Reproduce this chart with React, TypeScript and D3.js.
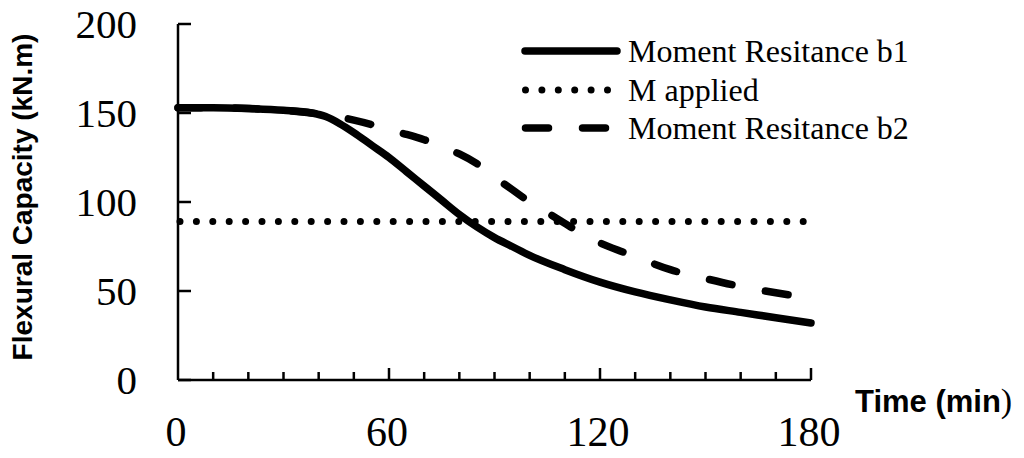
import React from "react";
import * as d3 from "d3";

const timeB1 = [0, 10, 20, 30, 38, 42, 46, 50, 55, 60, 65, 70, 75, 80, 85, 90, 95, 100, 110, 120, 130, 140, 150, 160, 170, 180];
const momentB1 = [153, 153, 152.5, 151.5, 150, 148, 144, 139, 132, 125, 117, 109, 101, 93, 86, 80, 75, 70, 62, 55, 49.5, 45, 41, 38, 35, 32];

const timeB2 = [0, 10, 20, 30, 38, 45, 50, 55, 60, 65, 70, 75, 80, 85, 90, 95, 100, 105, 110, 115, 120, 125, 130, 135, 140, 150, 160, 170, 180];
const momentB2 = [153, 153, 152.5, 151.5, 150, 148, 146, 143.5, 140.5, 138, 135, 131, 127, 121.5, 114, 107, 100, 94, 88, 82, 77, 73, 69.5, 65.5, 62, 57, 52.5, 49, 46];

const timeApplied = [0, 180];
const momentApplied = [89, 89];

const xTickLabels = [0, 60, 120, 180];
const yTickLabels = [0, 50, 100, 150, 200];
const xMinorTicks = d3.range(10, 181, 10);

const legendLabels = ["Moment Resitance b1", "M applied", "Moment Resitance b2"];

const SERIF = "'Liberation Serif', 'Times New Roman', serif";
const SANS = "'Liberation Sans', Arial, sans-serif";

export default function App() {
  const x = d3.scaleLinear().domain([0, 180]).range([178, 811]);
  const y = d3.scaleLinear().domain([0, 200]).range([380, 24]);

  const line = d3
    .line<[number, number]>()
    .x((d) => x(d[0]))
    .y((d) => y(d[1]))
    .curve(d3.curveMonotoneX);

  const b1 = line(timeB1.map((t, i) => [t, momentB1[i]]) as [number, number][]) || "";
  const b2 = line(timeB2.map((t, i) => [t, momentB2[i]]) as [number, number][]) || "";
  const ap = line(timeApplied.map((t, i) => [t, momentApplied[i]]) as [number, number][]) || "";

  const styles = [
    { dash: undefined as string | undefined, width: 7.5 },
    { dash: "0 16.4", width: 7 },
    { dash: "23 34", width: 7.5 },
  ];
  const legendY = [51, 90, 128];

  return (
    <svg
      width={1024}
      height={458}
      style={{ position: "absolute", left: 0, top: 0, background: "#fff" }}
    >
      <rect x={0} y={0} width={1024} height={458} fill="#fff" />
      {/* data lines */}
      <path d={ap} fill="none" stroke="#000" strokeWidth={styles[1].width} strokeDasharray={styles[1].dash} strokeLinecap="round" transform="translate(2,0)" />
      <path d={b2} fill="none" stroke="#000" strokeWidth={styles[2].width} strokeDasharray={styles[2].dash} strokeLinecap="round" />
      <path d={b1} fill="none" stroke="#000" strokeWidth={styles[0].width} strokeLinecap="round" />

      {/* axes */}
      <line x1={x(0)} x2={x(0)} y1={y(200)} y2={y(0)} stroke="#000" strokeWidth={2.5} />
      <line x1={x(0)} x2={x(180)} y1={y(0)} y2={y(0)} stroke="#000" strokeWidth={2.5} />
      {yTickLabels.map((v) => (
        <g key={"yt" + v}>
          <line x1={x(0)} x2={x(0) + 13} y1={y(v)} y2={y(v)} stroke="#000" strokeWidth={2.5} />
          <text x={137} y={y(v) + 14} textAnchor="end" fontFamily={SERIF} fontSize={41} fill="#000">
            {v}
          </text>
        </g>
      ))}
      {xMinorTicks.map((t) => {
        const major = t % 60 === 0;
        return (
          <line key={"xt" + t} x1={x(t)} x2={x(t)} y1={y(0)} y2={y(0) - (major ? 12 : 8)} stroke="#000" strokeWidth={2.5} />
        );
      })}
      {xTickLabels.map((t) => (
        <text key={"xl" + t} x={x(t) - 2} y={446} textAnchor="middle" fontFamily={SERIF} fontSize={42} fill="#000">
          {t}
        </text>
      ))}

      {/* axis titles */}
      <text x={855} y={412} fontFamily={SANS} fontWeight="bold" fontSize={31} fill="#000">
        Time (min<tspan fontFamily={SERIF} fontWeight="normal" fontSize={34}>)</tspan>
      </text>
      <text
        transform={`translate(32,197) rotate(-90)`}
        textAnchor="middle"
        fontFamily={SANS}
        fontWeight="bold"
        fontSize={28}
        fill="#000"
      >
        Flexural Capacity (kN.m)
      </text>

      {/* legend */}
      {legendLabels.map((lab, i) => (
        <g key={"lg" + i}>
          <line
            x1={i === 0 ? 525 : 525.5}
            x2={617}
            y1={legendY[i]}
            y2={legendY[i]}
            stroke="#000"
            strokeWidth={styles[i].width}
            strokeDasharray={styles[i].dash}
            strokeLinecap="round"
          />
          <text x={628} y={legendY[i] + 11} fontFamily={SERIF} fontSize={32} fill="#000">
            {lab}
          </text>
        </g>
      ))}
    </svg>
  );
}
